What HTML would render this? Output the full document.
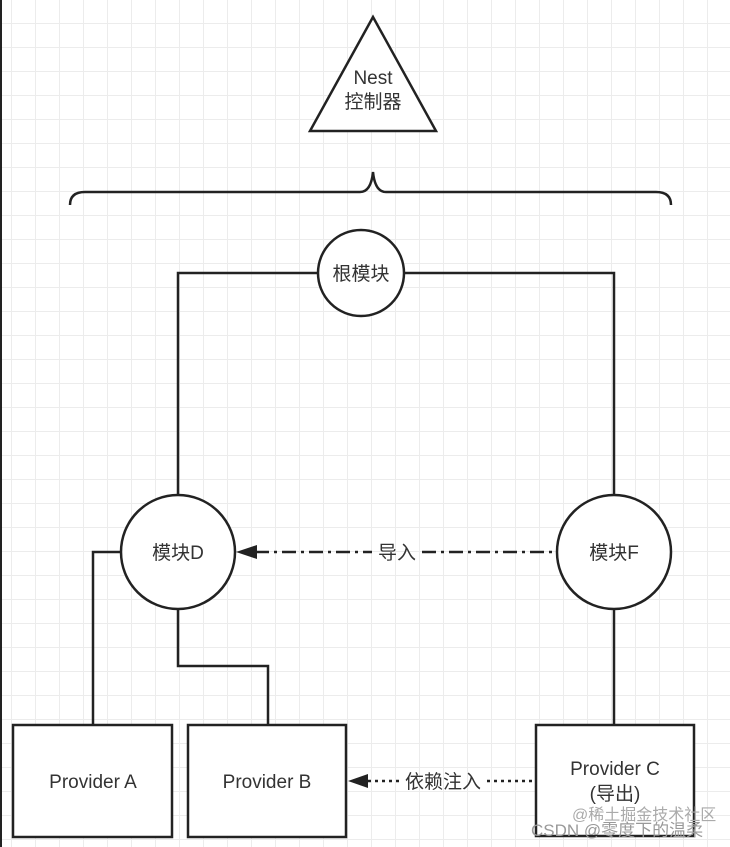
<!DOCTYPE html>
<html><head><meta charset="utf-8"><style>
html,body{margin:0;padding:0;background:#fff;}
svg{display:block;}
text{font-family:"Liberation Sans","Noto Sans CJK SC",sans-serif;fill:#333;}
</style></head><body>
<svg width="730" height="847" viewBox="0 0 730 847">
<defs>
<pattern id="g" x="11" y="-1" width="24" height="24" patternUnits="userSpaceOnUse">
<path d="M0 0V24M0 0H24" stroke="#ececec" stroke-width="2" fill="none"/>
</pattern>
</defs>
<rect width="730" height="847" fill="#fff"/>
<rect width="730" height="847" fill="url(#g)"/>
<rect x="0" y="0" width="2" height="847" fill="#222"/>
<g stroke="#222" stroke-width="2.5" fill="none">
<polygon points="373,17 310,131 436,131" fill="#fff"/>
<path d="M70,205 Q70,192 85,192 H360 Q371,192 373,172 Q375,192 386,192 H656 Q671,192 671,205"/>
<path d="M318,273 H178 V495 M404,273 H614 V495"/>
<path d="M121,552 H93 V725 M178,609 V666 H268 V725 M614,609 V725"/>
<circle cx="361" cy="273" r="43" fill="#fff"/>
<circle cx="178" cy="552" r="57" fill="#fff"/>
<circle cx="614" cy="552" r="57" fill="#fff"/>
<rect x="13" y="725" width="159" height="112" fill="#fff"/>
<rect x="188" y="725" width="158" height="112" fill="#fff"/>
<rect x="536" y="725" width="158" height="111" fill="#fff"/>
<path d="M255,552 H372 M422,552 H557" stroke-dasharray="14,5,3,5"/>
<path d="M368,781 H400 M487,781 H536" stroke-dasharray="3,4"/>
</g>
<polygon points="236,552 257,545 257,559" fill="#222"/>
<polygon points="348,781 368,774 368,788" fill="#222"/>
<g font-size="19" text-anchor="middle">
<text x="373" y="84">Nest</text>
<text x="373" y="108">控制器</text>
<text x="361" y="280">根模块</text>
<text x="178" y="559">模块D</text>
<text x="614" y="559">模块F</text>
<text x="397" y="559">导入</text>
<text x="93" y="788">Provider A</text>
<text x="267" y="788">Provider B</text>
<text x="615" y="775">Provider C</text>
<text x="615" y="800">(导出)</text>
<text x="443" y="788">依赖注入</text>
</g>
<text x="572" y="820" font-size="16" style="fill:#aaa">@稀土掘金技术社区</text>
<text x="531" y="836" font-size="17" style="fill:#999">CSDN @零度下的温柔</text>
</svg>
</body></html>
